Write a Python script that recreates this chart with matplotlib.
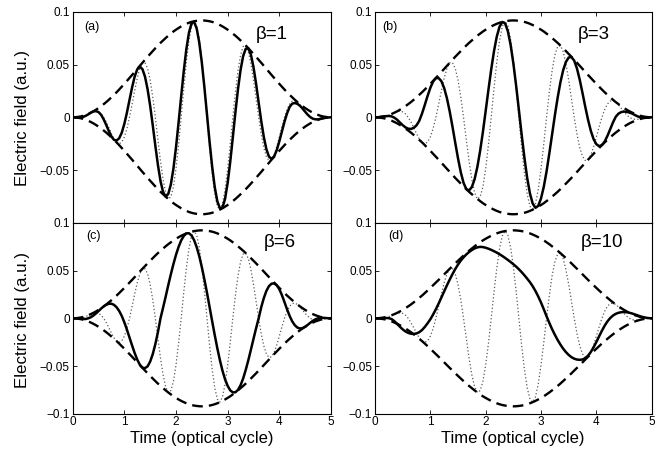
import matplotlib
matplotlib.use("Agg")
import matplotlib.pyplot as plt
import numpy as np

plt.rcParams['font.family'] = ['Liberation Sans', 'DejaVu Sans']

# time axis (optical cycles), one sample every 0.05 cycle
t = np.linspace(0, 5, 101)

# pulse envelope (dashed, drawn as +/-)
envelope = [0, 0.0001, 0.0004, 0.0008, 0.0014, 0.0023, 0.0032, 0.0044, 0.0057, 0.0072,
            0.0088, 0.0106, 0.0125, 0.0145, 0.0167, 0.0190, 0.0214, 0.0238, 0.0264, 0.0291,
            0.0318, 0.0346, 0.0374, 0.0402, 0.0431, 0.0460, 0.0489, 0.0518, 0.0546, 0.0575,
            0.0602, 0.0629, 0.0656, 0.0682, 0.0707, 0.0730, 0.0753, 0.0775, 0.0795, 0.0815,
            0.0832, 0.0848, 0.0863, 0.0876, 0.0888, 0.0898, 0.0906, 0.0912, 0.0916, 0.0919,
            0.0920, 0.0919, 0.0916, 0.0912, 0.0906, 0.0898, 0.0888, 0.0876, 0.0863, 0.0848,
            0.0832, 0.0815, 0.0795, 0.0775, 0.0753, 0.0730, 0.0707, 0.0682, 0.0656, 0.0629,
            0.0602, 0.0575, 0.0546, 0.0518, 0.0489, 0.0460, 0.0431, 0.0402, 0.0374, 0.0346,
            0.0318, 0.0291, 0.0264, 0.0238, 0.0214, 0.0190, 0.0167, 0.0145, 0.0125, 0.0106,
            0.0088, 0.0072, 0.0057, 0.0044, 0.0032, 0.0023, 0.0014, 0.0008, 0.0004, 0.0001,
            0]

# unchirped pulse (dotted)
carrier = [0, 0, 0, 0.0002, 0.0008, 0.0019, 0.0030, 0.0044, 0.0054, 0.0058,
           0.0052, 0.0033, 0, -0.0045, -0.0098, -0.0154, -0.0204, -0.0238, -0.0251, -0.0235,
           -0.0187, -0.0107, 0, 0.0124, 0.0253, 0.0372, 0.0465, 0.0518, 0.0519, 0.0465,
           0.0354, 0.0194, 0, -0.0211, -0.0416, -0.0591, -0.0716, -0.0775, -0.0756, -0.0659,
           -0.0489, -0.0262, 0, 0.0271, 0.0522, 0.0726, 0.0862, 0.0912, 0.0871, 0.0743,
           0.0541, 0.0284, 0, -0.0282, -0.0533, -0.0726, -0.0844, -0.0876, -0.0821, -0.0686,
           -0.0489, -0.0252, 0, 0.0239, 0.0443, 0.0591, 0.0672, 0.0682, 0.0624, 0.0509,
           0.0354, 0.0178, 0, -0.0160, -0.0288, -0.0372, -0.0410, -0.0402, -0.0356, -0.0280,
           -0.0187, -0.0090, 0, 0.0074, 0.0126, 0.0154, 0.0159, 0.0145, 0.0119, 0.0086,
           0.0052, 0.0022, 0, -0.0014, -0.0019, -0.0019, -0.0013, -0.0008, -0.0004, -0.0001,
           0]

# chirped pulses (solid)
field_b1 = [0, 0, -0.0002, -0.0001, 0.0004, 0.0014, 0.0028, 0.0044, 0.0056, 0.0059,
            0.0050, 0.0024, -0.0019, -0.0073, -0.0131, -0.0182, -0.0214, -0.0220, -0.0199, -0.0146,
            -0.0062, 0.0045, 0.0166, 0.0284, 0.0387, 0.0456, 0.0481, 0.0458, 0.0386, 0.0267,
            0.0109, -0.0075, -0.0269, -0.0452, -0.0605, -0.0709, -0.0752, -0.0728, -0.0638, -0.0487,
            -0.0285, -0.0049, 0.0198, 0.0438, 0.0646, 0.0802, 0.0892, 0.0907, 0.0844, 0.0711,
            0.0520, 0.0284, 0.0026, -0.0233, -0.0468, -0.0662, -0.0797, -0.0863, -0.0857, -0.0773,
            -0.0623, -0.0422, -0.0190, 0.0047, 0.0267, 0.0450, 0.0582, 0.0651, 0.0656, 0.0596,
            0.0477, 0.0320, 0.0141, -0.0034, -0.0187, -0.0303, -0.0373, -0.0394, -0.0371, -0.0312,
            -0.0228, -0.0135, -0.0042, 0.0038, 0.0099, 0.0130, 0.0136, 0.0128, 0.0110, 0.0083,
            0.0053, 0.0025, 0.0002, -0.0013, -0.0019, -0.0019, -0.0014, -0.0008, -0.0004, -0.0001,
            0]

field_b3 = [0, 0, 0.0004, 0.0008, 0.0011, 0.0013, 0.0009, -0.0003, -0.0023, -0.0049,
            -0.0074, -0.0095, -0.0108, -0.0110, -0.0100, -0.0076, -0.0033, 0.0036, 0.0118, 0.0203,
            0.0280, 0.0340, 0.0372, 0.0373, 0.0343, 0.0278, 0.0181, 0.0056, -0.0088, -0.0241,
            -0.0389, -0.0521, -0.0622, -0.0681, -0.0694, -0.0662, -0.0587, -0.0470, -0.0317, -0.0138,
            0.0061, 0.0262, 0.0455, 0.0627, 0.0765, 0.0860, 0.0906, 0.0893, 0.0819, 0.0690,
            0.0513, 0.0302, 0.0071, -0.0163, -0.0383, -0.0575, -0.0723, -0.0819, -0.0859, -0.0840,
            -0.0770, -0.0659, -0.0514, -0.0343, -0.0163, 0.0018, 0.0185, 0.0331, 0.0447, 0.0526,
            0.0568, 0.0572, 0.0538, 0.0463, 0.0356, 0.0230, 0.0099, -0.0023, -0.0128, -0.0207,
            -0.0255, -0.0274, -0.0263, -0.0230, -0.0176, -0.0113, -0.0049, 0.0005, 0.0035, 0.0050,
            0.0055, 0.0052, 0.0045, 0.0035, 0.0021, 0.0008, 0, -0.0003, -0.0003, -0.0001,
            0]

field_b6 = [0, 0, 0, 0, -0.0008, -0.0007, 0, 0.0011, 0.0029, 0.0051,
            0.0076, 0.0102, 0.0125, 0.0142, 0.0152, 0.0153, 0.0141, 0.0116, 0.0077, 0.0025,
            -0.0042, -0.0118, -0.0201, -0.0284, -0.0363, -0.0432, -0.0485, -0.0516, -0.0521, -0.0502,
            -0.0452, -0.0374, -0.0270, -0.0144, 0, 0.0112, 0.0227, 0.0346, 0.0460, 0.0567,
            0.0664, 0.0747, 0.0814, 0.0861, 0.0888, 0.0890, 0.0867, 0.0818, 0.0745, 0.0650,
            0.0535, 0.0406, 0.0267, 0.0119, -0.0030, -0.0175, -0.0313, -0.0438, -0.0548, -0.0638,
            -0.0706, -0.0753, -0.0774, -0.0773, -0.0748, -0.0699, -0.0629, -0.0539, -0.0438, -0.0328,
            -0.0215, -0.0105, 0, 0.0116, 0.0212, 0.0287, 0.0337, 0.0362, 0.0365, 0.0346,
            0.0305, 0.0243, 0.0170, 0.0094, 0.0025, -0.0032, -0.0072, -0.0097, -0.0106, -0.0102,
            -0.0088, -0.0068, -0.0046, -0.0026, -0.0010, 0, 0.0004, 0.0005, 0.0003, 0.0001,
            0]

field_b10 = [0, 0, 0, 0.0002, 0.0003, 0.0002, -0.0008, -0.0030, -0.0058, -0.0088,
             -0.0115, -0.0137, -0.0152, -0.0161, -0.0163, -0.0158, -0.0145, -0.0122, -0.0090, -0.0052,
             -0.0010, 0.0040, 0.0095, 0.0155, 0.0218, 0.0282, 0.0345, 0.0405, 0.0462, 0.0515,
             0.0562, 0.0603, 0.0638, 0.0668, 0.0693, 0.0714, 0.0731, 0.0742, 0.0747, 0.0745,
             0.0738, 0.0728, 0.0716, 0.0702, 0.0687, 0.0670, 0.0652, 0.0632, 0.0611, 0.0589,
             0.0566, 0.0541, 0.0513, 0.0483, 0.0450, 0.0415, 0.0378, 0.0335, 0.0285, 0.0228,
             0.0165, 0.0095, 0.0022, -0.0048, -0.0113, -0.0172, -0.0226, -0.0274, -0.0317, -0.0353,
             -0.0383, -0.0406, -0.0422, -0.0431, -0.0434, -0.0430, -0.0416, -0.0390, -0.0352, -0.0303,
             -0.0247, -0.0188, -0.0130, -0.0077, -0.0032, 0.0003, 0.0029, 0.0047, 0.0058, 0.0064,
             0.0066, 0.0064, 0.0058, 0.0050, 0.0040, 0.0030, 0.0020, 0.0012, 0.0006, 0.0002,
             0]

fields = [field_b1, field_b3, field_b6, field_b10]
betas = [1, 3, 6, 10]
tags = ['(a)', '(b)', '(c)', '(d)']

env = np.array(envelope)

fig = plt.figure(figsize=(6.65, 4.58), dpi=100)
# [left, bottom, width, height] of each panel, top row is a bit taller
rects = [[0.1093, 0.5138, 0.3884, 0.4600],
         [0.5639, 0.5138, 0.4161, 0.4600],
         [0.1093, 0.0961, 0.3884, 0.4177],
         [0.5639, 0.0961, 0.4161, 0.4177]]
tag_x = [0.37, 0.27, 0.40, 0.37]
beta_x = [3.85, 3.95, 4.01, 4.10]

for i in range(4):
    ax = fig.add_axes(rects[i])
    ax.plot(t, carrier, color='0.35', lw=0.9, ls=(0, (1, 1.8)))
    ax.plot(t, env, color='k', lw=1.7, ls=(0, (4.5, 2.6)))
    ax.plot(t, -env, color='k', lw=1.7, ls=(0, (4.5, 2.6)))
    ax.plot(t, fields[i], color='k', lw=1.8)
    ax.set_xlim(0, 5)
    ax.set_ylim(-0.1, 0.1)
    ax.set_xticks([0, 1, 2, 3, 4, 5])
    ax.set_yticks([-0.1, -0.05, 0, 0.05, 0.1])
    ax.tick_params(direction='in', top=True, right=True, length=3, width=0.6,
                   labelsize=8.5, pad=2)
    ax.tick_params(axis='x', pad=1.5)
    for sp in ax.spines.values():
        sp.set_linewidth(0.8)
    if i < 2:
        ax.set_xticklabels([])
        ax.set_yticklabels(['', '\u22120.05', '0', '0.05', '0.1'])
    else:
        ax.set_yticklabels(['\u22120.1', '\u22120.05', '0', '0.05', '0.1'])
    ax.text(tag_x[i], 0.086, tags[i], fontsize=9, ha='center', va='center')
    ax.text(beta_x[i], 0.079, '\u03b2=%d' % betas[i], fontsize=13.5, ha='center', va='center')

fig.text(23 / 665, 1 - 118 / 458, 'Electric field (a.u.)', rotation=90,
         ha='center', va='center', fontsize=12.2)
fig.text(23 / 665, 1 - 320 / 458, 'Electric field (a.u.)', rotation=90,
         ha='center', va='center', fontsize=12.2)
fig.text(202 / 665, 1 - 439 / 458, 'Time (optical cycle)', ha='center', va='center', fontsize=12)
fig.text(513 / 665, 1 - 439 / 458, 'Time (optical cycle)', ha='center', va='center', fontsize=12)

fig.savefig('out.png', dpi=100)
